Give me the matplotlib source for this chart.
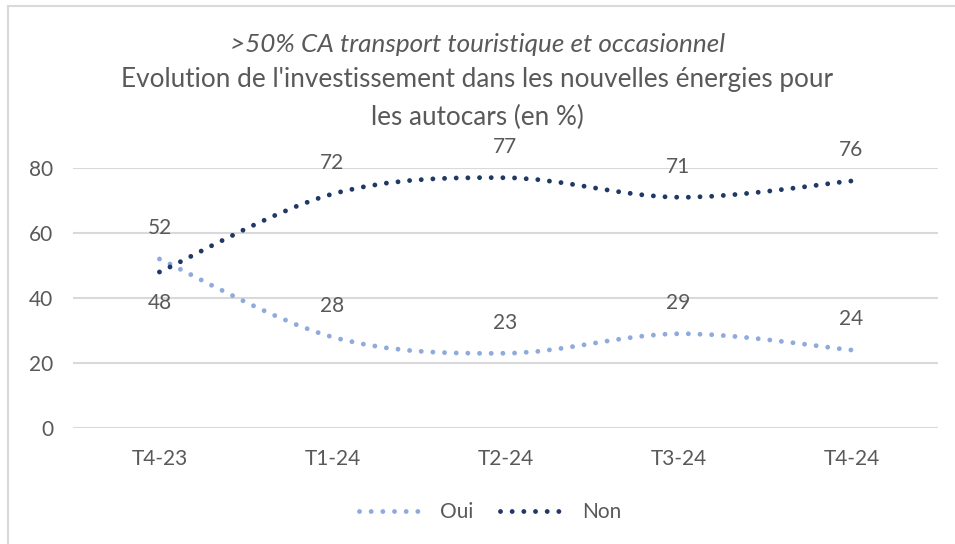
import matplotlib

matplotlib.use("Agg")
import matplotlib.pyplot as plt
import numpy as np
from matplotlib.lines import Line2D
from matplotlib.patches import PathPatch
from matplotlib.path import Path

categories = ["T4-23", "T1-24", "T2-24", "T3-24", "T4-24"]
oui = [52, 28, 23, 29, 24]
non = [48, 72, 77, 71, 76]
yticks = [0, 20, 40, 60, 80]

TEXT = "#595959"
GRID = "#d9d9d9"
C_OUI = "#8faadc"
C_NON = "#203864"

plt.rcParams["font.family"] = ["Lato", "DejaVu Sans"]


def smooth_path(xs, ys):
    # Excel-like smoothed line: cubic Bezier segments through the points
    pts = np.column_stack([xs, ys]).astype(float)
    n = len(pts)
    verts = [pts[0]]
    codes = [Path.MOVETO]
    for i in range(n - 1):
        p0 = pts[max(i - 1, 0)]
        p1 = pts[i]
        p2 = pts[i + 1]
        p3 = pts[min(i + 2, n - 1)]
        c1 = p1 + (p2 - p0) / 6.0
        c2 = p2 - (p3 - p1) / 6.0
        verts += [c1, c2, p2]
        codes += [Path.CURVE4] * 3
    return Path(verts, codes)


fig = plt.figure(figsize=(9.55, 5.44), dpi=100)
ax = fig.add_axes([0.0764, 0.2132, 0.9058, 0.478])

x = np.arange(len(categories))
dots = (0, (0.001, 2.4))
lw = 3.5
for vals, color in [(oui, C_OUI), (non, C_NON)]:
    patch = PathPatch(smooth_path(x, vals), facecolor="none", edgecolor=color,
                      linewidth=lw, linestyle=dots, capstyle="round", zorder=3)
    ax.add_patch(patch)
    # invisible line so the axes know the data
    ax.plot(x, vals, color=color, alpha=0)

# data labels
fs = 15
for i, v in enumerate(oui):
    ax.annotate(str(v), (x[i], v), xytext=(0, 22), textcoords="offset points",
                ha="center", va="center", fontsize=fs, color=TEXT)
for i, v in enumerate(non):
    dy = -22 if i == 0 else 22
    ax.annotate(str(v), (x[i], v), xytext=(0, dy), textcoords="offset points",
                ha="center", va="center", fontsize=fs, color=TEXT)

ax.set_xlim(-0.5, len(categories) - 0.5)
ax.set_ylim(0, 80)
ax.set_yticks(yticks)
ax.set_xticks(x)
ax.set_xticklabels(categories)
ax.grid(axis="y", color=GRID, linewidth=1.5)
ax.set_axisbelow(True)
for s in ["top", "right", "left", "bottom"]:
    ax.spines[s].set_visible(False)
ax.tick_params(length=0, labelsize=fs, labelcolor=TEXT)
ax.tick_params(axis="y", pad=14)
ax.tick_params(axis="x", pad=15)

handles = [Line2D([0], [0], color=c, linewidth=lw, linestyle=dots,
                  dash_capstyle="round") for c in (C_OUI, C_NON)]
leg = fig.legend(handles, ["Oui", "Non"], loc="center", bbox_to_anchor=(0.513, 0.059),
                 ncol=2, frameon=False, fontsize=fs, handlelength=3.3,
                 columnspacing=1.3, handletextpad=0.6)
for t in leg.get_texts():
    t.set_color(TEXT)

tfs = 18.8
fig.text(0.5, 1 - 45 / 544, ">50% CA transport touristique et occasionnel",
         ha="center", va="center", fontsize=tfs, style="italic", color=TEXT)
fig.text(0.5, 1 - 80 / 544, "Evolution de l'investissement dans les nouvelles énergies pour",
         ha="center", va="center", fontsize=tfs, color=TEXT)
fig.text(0.5, 1 - 117 / 544, "les autocars (en %)",
         ha="center", va="center", fontsize=tfs, color=TEXT)

# chart frame (left and top edges visible in the crop)
fig.add_artist(Line2D([8 / 955, 8 / 955], [0, 1 - 6 / 544], color=GRID, linewidth=1.5))
fig.add_artist(Line2D([8 / 955, 1], [1 - 6 / 544, 1 - 6 / 544], color=GRID, linewidth=1.5))

fig.savefig("out.png", dpi=100)
